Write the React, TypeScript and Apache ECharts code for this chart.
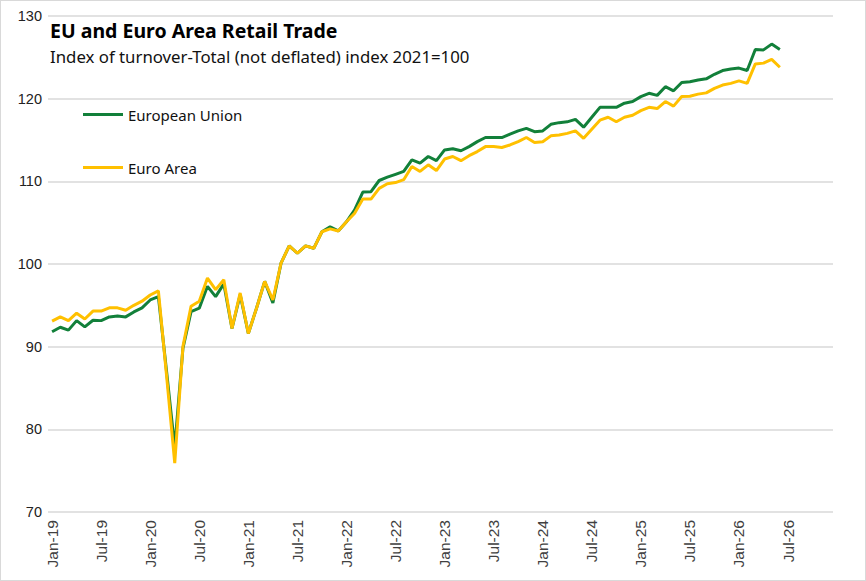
import React from "react";
import * as echarts from "echarts";

// month labels, Jan-19 .. Dec-26 (axis runs a bit past the data)
const MONTHS = ["Jan", "Feb", "Mar", "Apr", "May", "Jun", "Jul", "Aug", "Sep", "Oct", "Nov", "Dec"];
const YEARS = ["19", "20", "21", "22", "23", "24", "25", "26"];
const categories = YEARS.flatMap((y) => MONTHS.map((m) => `${m}-${y}`));

// Jan-19 .. Jun-26
const euValues = [
  91.8, 92.35, 92.0, 93.15, 92.4, 93.2, 93.15, 93.6, 93.7, 93.6, 94.2, 94.7,
  95.65, 96.05, 87.0, 77.8, 89.8, 94.25, 94.65, 97.3, 96.05, 97.6, 92.2, 96.3,
  91.6, 94.65, 97.9, 95.3, 100.1, 102.2, 101.3, 102.2, 101.9, 103.9, 104.5, 104.0,
  105.1, 106.55, 108.7, 108.75, 110.1, 110.5, 110.85, 111.2, 112.6, 112.2, 113.0, 112.5,
  113.8, 113.95, 113.7, 114.2, 114.8, 115.3, 115.3, 115.3, 115.7, 116.1, 116.4, 116.0,
  116.1, 116.9, 117.1, 117.2, 117.5, 116.55, 117.75, 118.95, 118.95, 118.95, 119.45, 119.65,
  120.25, 120.65, 120.4, 121.45, 120.95, 121.95, 122.05, 122.25, 122.4, 122.95, 123.4, 123.6,
  123.7, 123.4, 125.95, 125.9, 126.6, 125.95,
];
const euroAreaValues = [
  93.1, 93.6, 93.15, 94.05, 93.35, 94.3, 94.3, 94.7, 94.7, 94.4, 95.0, 95.5,
  96.25, 96.75, 86.5, 75.9, 90.0, 94.9, 95.5, 98.3, 96.9, 98.1, 92.2, 96.5,
  91.6, 94.65, 97.9, 95.65, 100.1, 102.2, 101.3, 102.2, 101.9, 103.9, 104.25, 104.0,
  105.1, 106.15, 107.85, 107.85, 109.15, 109.7, 109.85, 110.2, 111.8, 111.2, 112.0, 111.3,
  112.7, 113.0, 112.5, 113.1, 113.6, 114.2, 114.2, 114.1, 114.4, 114.8, 115.3, 114.7,
  114.8, 115.5, 115.6, 115.8, 116.1, 115.2, 116.3, 117.4, 117.75, 117.2, 117.75, 118.0,
  118.55, 118.95, 118.8, 119.65, 119.1, 120.25, 120.3, 120.55, 120.7, 121.25, 121.65, 121.85,
  122.15, 121.85, 124.2, 124.3, 124.75, 123.8,
];

const GREEN = "#12803a";
const GOLD = "#ffc000";
const TEXT_FONT = "'Noto Sans', sans-serif";

function RetailChart() {
  const chartRef = React.useRef<HTMLDivElement>(null);

  React.useEffect(() => {
    if (!chartRef.current) return;
    const chart = echarts.init(chartRef.current, null, { renderer: "svg" });
    chart.setOption({
      animation: false,
      title: {
        text: "EU and Euro Area Retail Trade",
        subtext: "Index of turnover-Total (not deflated) index 2021=100",
        left: 45,
        top: 15,
        itemGap: 8,
        textStyle: { fontFamily: TEXT_FONT, fontSize: 19.5, fontWeight: "bold", color: "#000" },
        subtextStyle: { fontFamily: TEXT_FONT, fontSize: 16.8, color: "#111" },
      },
      legend: {
        orient: "vertical",
        left: 78,
        top: 102,
        itemGap: 38,
        itemWidth: 40,
        itemHeight: 3,
        icon: "rect",
        textStyle: { fontFamily: TEXT_FONT, fontSize: 15, color: "#111" },
        data: ["European Union", "Euro Area"],
      },
      grid: { left: 48, right: 33, top: 16, bottom: 69 },
      xAxis: {
        type: "category",
        data: categories,
        boundaryGap: true,
        axisLine: { show: false },
        axisTick: { show: false },
        axisLabel: {
          interval: 5,
          rotate: 90,
          margin: 8,
          fontFamily: "Liberation Sans",
          fontSize: 15.5,
          color: "#404040",
        },
      },
      yAxis: {
        type: "value",
        min: 70,
        max: 130,
        interval: 10,
        axisLine: { show: false },
        axisTick: { show: false },
        axisLabel: { fontFamily: "Liberation Sans", fontSize: 14.5, color: "#222", margin: 6 },
        splitLine: { lineStyle: { color: "#d9d9d9", width: 1.5 } },
      },
      series: [
        {
          name: "European Union",
          type: "line",
          data: euValues,
          showSymbol: false,
          lineStyle: { color: GREEN, width: 3 },
          itemStyle: { color: GREEN },
        },
        {
          name: "Euro Area",
          type: "line",
          data: euroAreaValues,
          showSymbol: false,
          lineStyle: { color: GOLD, width: 3 },
          itemStyle: { color: GOLD },
        },
      ],
    });
    return () => chart.dispose();
  }, []);

  return <div ref={chartRef} style={{ width: 866, height: 581 }} />;
}

export default function App() {
  return (
    <div
      style={{
        position: "absolute",
        left: 0,
        top: 0,
        width: 866,
        height: 581,
        background: "#fff",
        border: "1px solid #d9d9d9",
        boxSizing: "border-box",
        overflow: "hidden",
      }}
    >
      <div style={{ position: "absolute", left: -1, top: -1 }}>
        <RetailChart />
      </div>
    </div>
  );
}
